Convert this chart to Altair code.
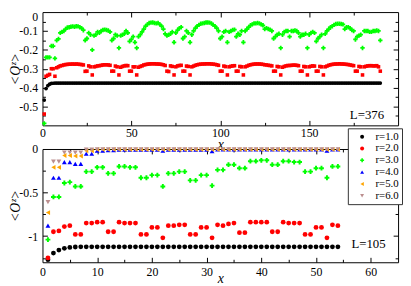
import altair as alt
import pandas as pd

# ---------------- data ----------------
labels = ["r=1.0", "r=2.0", "r=3.0", "r=4.0", "r=5.0", "r=6.0"]
colors = ["#000000", "#ff0000", "#00ff00", "#0000ff", "#ffa500", "#bc8f8f"]
shapes_bot = ["circle", "circle", "cross", "triangle-up", "triangle-left", "triangle-down"]
shapes_top = ["circle", "square", "cross"]

# top panel, L=376
top_x = list(range(1, 191))
top_r1 = [-0.466, -0.405, -0.39, -0.382, -0.378, -0.377] + [-0.376] * 184
top_r2 = [
    -0.54, -0.34, -0.335, -0.33, -0.30, -0.30, -0.34, -0.295, -0.29, -0.285,
    -0.283, -0.28, -0.278, -0.277, -0.276, -0.276, -0.275, -0.276, -0.275, -0.276,
    -0.277, -0.278, -0.28, -0.314, -0.313, -0.285, -0.29, -0.333, -0.29, -0.288,
    -0.285, -0.284, -0.282, -0.28, -0.279, -0.279, -0.28, -0.282, -0.313, -0.313,
    -0.286, -0.29, -0.333, -0.292, -0.288, -0.285, -0.283, -0.284, -0.313, -0.313,
    -0.29, -0.29, -0.333, -0.292, -0.288, -0.285, -0.28, -0.278, -0.276, -0.275,
    -0.274, -0.274, -0.274, -0.275, -0.275, -0.276, -0.277, -0.279, -0.283, -0.313,
    -0.315, -0.285, -0.288, -0.333, -0.29, -0.285, -0.283, -0.282, -0.313, -0.313,
    -0.286, -0.288, -0.333, -0.29, -0.286, -0.282, -0.279, -0.277, -0.276, -0.275,
    -0.275, -0.274, -0.274, -0.274, -0.275, -0.276, -0.277, -0.279, -0.282, -0.313,
    -0.313, -0.286, -0.289, -0.333, -0.29, -0.287, -0.285, -0.284, -0.313, -0.313,
    -0.288, -0.29, -0.333, -0.29, -0.286, -0.282, -0.279, -0.277, -0.276, -0.275,
    -0.275, -0.275, -0.276, -0.277, -0.279, -0.28, -0.282, -0.283, -0.285, -0.313,
    -0.313, -0.288, -0.29, -0.333, -0.292, -0.288, -0.285, -0.283, -0.283, -0.282,
    -0.281, -0.281, -0.282, -0.284, -0.313, -0.313, -0.288, -0.29, -0.333, -0.29,
    -0.287, -0.285, -0.286, -0.313, -0.313, -0.288, -0.29, -0.333, -0.29, -0.286,
    -0.282, -0.279, -0.277, -0.276, -0.275, -0.275, -0.274, -0.275, -0.275, -0.276,
    -0.277, -0.278, -0.28, -0.282, -0.284, -0.313, -0.313, -0.288, -0.29, -0.333,
    -0.29, -0.287, -0.285, -0.284, -0.284, -0.285, -0.285, -0.284, -0.29, -0.313,
]
top_r3 = [
    -0.59, -0.24, -0.24, -0.24, -0.18, -0.18, -0.245, -0.15, -0.142, -0.11,
    -0.105, -0.10, -0.09, -0.082, -0.08, -0.078, -0.076, -0.078, -0.075, -0.076,
    -0.08, -0.085, -0.096, -0.15, -0.14, -0.11, -0.12, -0.20, -0.125, -0.12,
    -0.105, -0.11, -0.10, -0.095, -0.093, -0.095, -0.098, -0.105, -0.15, -0.14,
    -0.12, -0.125, -0.19, -0.125, -0.12, -0.115, -0.10, -0.11, -0.155, -0.145,
    -0.13, -0.16, -0.19, -0.13, -0.12, -0.105, -0.09, -0.075, -0.065, -0.058,
    -0.056, -0.055, -0.058, -0.06, -0.058, -0.065, -0.075, -0.09, -0.115, -0.125,
    -0.12, -0.115, -0.105, -0.16, -0.11, -0.095, -0.085, -0.08, -0.14, -0.13,
    -0.10, -0.11, -0.16, -0.12, -0.10, -0.085, -0.075, -0.068, -0.062, -0.06,
    -0.058, -0.055, -0.055, -0.056, -0.06, -0.068, -0.075, -0.085, -0.10, -0.14,
    -0.13, -0.105, -0.10, -0.16, -0.105, -0.10, -0.095, -0.093, -0.13, -0.115,
    -0.12, -0.10, -0.16, -0.10, -0.09, -0.08, -0.07, -0.065, -0.06, -0.06,
    -0.058, -0.06, -0.065, -0.07, -0.09, -0.085, -0.09, -0.093, -0.10, -0.14,
    -0.13, -0.12, -0.115, -0.19, -0.12, -0.105, -0.10, -0.10, -0.13, -0.10,
    -0.10, -0.098, -0.10, -0.11, -0.13, -0.12, -0.12, -0.115, -0.19, -0.12,
    -0.11, -0.105, -0.11, -0.155, -0.14, -0.13, -0.12, -0.19, -0.115, -0.10,
    -0.09, -0.08, -0.075, -0.068, -0.063, -0.062, -0.062, -0.063, -0.065, -0.09,
    -0.08, -0.08, -0.085, -0.095, -0.10, -0.145, -0.13, -0.125, -0.12, -0.19,
    -0.10, -0.10, -0.10, -0.105, -0.105, -0.10, -0.10, -0.098, -0.10, -0.15,
]

# bottom panel, L=105
bot_x = list(range(1, 55))
bot_r1 = [-1.27, -1.195, -1.16, -1.14, -1.13, -1.125] + [-1.123] * 48
bot_r2 = [
    -1.25, -0.95, -0.94, -0.89, -0.88, -0.98, -0.98, -0.85, -0.85, -0.84,
    -0.84, -0.95, -0.95, -0.84, -0.85, -0.85, -0.85, -0.98, -0.98, -0.90,
    -0.90, -1.02, -0.88, -0.88, -0.87, -0.87, -0.98, -0.98, -0.90, -0.90,
    -1.02, -0.87, -0.88, -0.86, -0.85, -0.96, -0.96, -0.84, -0.84, -0.84,
    -0.84, -0.95, -0.95, -0.84, -0.85, -0.85, -0.85, -0.98, -0.98, -0.90,
    -0.90, -1.02, -0.87, -0.88,
]
bot_r3 = [
    -1.04, -0.55, -0.55, -0.39, -0.38, -0.43, -0.43, -0.26, -0.26, -0.21,
    -0.21, -0.28, -0.28, -0.20, -0.20, -0.21, -0.21, -0.33, -0.33, -0.30,
    -0.30, -0.43, -0.28, -0.28, -0.26, -0.26, -0.36, -0.36, -0.30, -0.30,
    -0.42, -0.24, -0.24, -0.18, -0.18, -0.22, -0.22, -0.14, -0.14, -0.13,
    -0.13, -0.18, -0.18, -0.14, -0.14, -0.15, -0.15, -0.26, -0.26, -0.22,
    -0.22, -0.33, -0.20, -0.20,
]
bot_r4 = ([-0.88, -0.33, -0.33, -0.15, -0.15, -0.17, -0.17, -0.055, -0.055, -0.02,
           -0.02, -0.012, -0.012] + [-0.008] * 8 + [-0.02] + [-0.007] * 8
          + [-0.025] + [-0.006] * 20 + [-0.018, -0.006, -0.006])
bot_r5 = [-0.73, -0.21, -0.21, -0.075, -0.075, -0.08, -0.08, -0.02, -0.02] + [-0.005] * 45
bot_r6 = [-0.61, -0.145, -0.145, -0.04, -0.04, -0.042, -0.042, -0.008, -0.008] + [-0.003] * 45

top_ann = pd.DataFrame({"x": [182.5], "y": [-0.545], "t": ["L=376"]})
bot_ann = pd.DataFrame({"x": [59.6], "y": [-1.09], "t": ["L=105"]})

# ---------------- chart ----------------
SERIF = "'Liberation Serif', 'Times New Roman', serif"
W, TH, BH = 361, 115, 115


def cond(test, big=5, small=3):
    return {"condition": {"test": test, "value": big}, "value": small}


def tick_axis(orient, offset, values, test):
    return alt.Axis(orient=orient, offset=offset, values=values, labels=False,
                    domain=False, ticks=True, tickSize=cond(test), title=None,
                    grid=False, tickColor="black")


# --- top panel
xs_t = alt.Scale(domain=[0, 200], nice=False, zero=False)
ys_t = alt.Scale(domain=[-0.6, 0], nice=False, zero=False)
xt_major = [0, 50, 100, 150]
xt_all = [25, 50, 75, 100, 125, 150, 175]
yt_major = [0, -0.1, -0.2, -0.3, -0.4, -0.5]
yt_all = [-0.05, -0.1, -0.15, -0.2, -0.25, -0.3, -0.35, -0.4, -0.45, -0.5, -0.55]
xt_test = "datum.value % 50 === 0"
yt_test = "abs(datum.value*10 - round(datum.value*10)) < 0.001"

x_lab_t = alt.Axis(orient="bottom", values=xt_major, ticks=False, domain=False, grid=False,
                   labelPadding=2, format="d", labelFlush=False, title="x",
                   titleFontStyle="italic", titleFontSize=14, titleY=23,
                   titleBaseline="alphabetic")
y_lab_t = alt.Axis(orient="left", values=yt_major, ticks=False, domain=False, grid=False,
                   labelPadding=5, labelFlush=True,
                   labelExpr="datum.value === 0 ? '0' : replace(format(datum.value, '.1f'), '\u2212', '-')",
                   title="<O\u1dbb>", titleFontStyle="italic", titleFontSize=14,
                   titleX=-27, titleBaseline="middle", titleAngle=270)

top_dfs = [pd.DataFrame({"x": top_x, "y": v}) for v in (top_r1, top_r2, top_r3)]
top_axes = [
    (x_lab_t, y_lab_t),
    (tick_axis("top", -TH, xt_all, xt_test), tick_axis("right", -W, yt_all, yt_test)),
    (tick_axis("bottom", -TH, xt_all, xt_test), tick_axis("left", -W, yt_all, yt_test)),
]
top_sizes = [14, 13, 20]
top_layers = []
for i in range(3):
    ax_x, ax_y = top_axes[i]
    top_layers.append(
        alt.Chart(top_dfs[i]).mark_point(filled=True, opacity=1, shape=shapes_top[i],
                                         size=top_sizes[i], color=colors[i], clip=False)
        .encode(x=alt.X("x:Q", scale=xs_t, axis=ax_x),
                y=alt.Y("y:Q", scale=ys_t, axis=ax_y))
    )
top_text = alt.Chart(top_ann).mark_text(font=SERIF, fontSize=13, color="black").encode(
    x=alt.X("x:Q", scale=xs_t, axis=None), y=alt.Y("y:Q", scale=ys_t, axis=None), text="t:N")
top = alt.layer(*top_layers, top_text).resolve_axis(x="independent", y="independent").properties(
    width=W, height=TH)

# --- bottom panel
xs_b = alt.Scale(domain=[0, 65], nice=False, zero=False)
ys_b = alt.Scale(domain=[-1.3, 0], nice=False, zero=False)
xb_major = [0, 10, 20, 30, 40, 50, 60]
xb_all = [5, 10, 15, 20, 25, 30, 35, 40, 45, 50, 55, 60]
yb_major = [0, -0.5, -1]
yb_all = [-0.25, -0.5, -0.75, -1, -1.25]
xb_test = "datum.value % 10 === 0"
yb_test = "abs(datum.value*2 - round(datum.value*2)) < 0.001"

bot_series = [bot_r1, bot_r2, bot_r3, bot_r4, bot_r5, bot_r6]
bot_df = pd.concat([pd.DataFrame({"x": bot_x, "y": v, "s": labels[i]})
                    for i, v in enumerate(bot_series)], ignore_index=True)

x_lab_b = alt.Axis(orient="bottom", values=xb_major, ticks=False, domain=False, grid=False,
                   labelPadding=4, format="d", labelFlush=False, title="x",
                   titleFontStyle="italic", titleFontSize=14, titleY=21,
                   titleBaseline="alphabetic")
y_lab_b = alt.Axis(orient="left", values=yb_major, ticks=False, domain=False, grid=False,
                   labelPadding=5, labelFlush=False,
                   labelExpr="replace(format(datum.value, '~g'), '\u2212', '-')",
                   title="<O\u1dbb>", titleFontStyle="italic", titleFontSize=14,
                   titleX=-27, titleBaseline="middle", titleAngle=270)

legend = alt.Legend(title=None, orient="none", legendX=310, legendY=118,
                    fillColor="white", strokeColor="#333333", padding=3,
                    labelFont=SERIF, labelFontSize=11, labelColor="black",
                    symbolSize=16, symbolOffset=6, labelOffset=8, rowPadding=0,
                    symbolStrokeWidth=0)

bot_pts = alt.Chart(bot_df).mark_point(filled=True, opacity=1, size=24, clip=False).encode(
    x=alt.X("x:Q", scale=xs_b, axis=x_lab_b),
    y=alt.Y("y:Q", scale=ys_b, axis=y_lab_b),
    color=alt.Color("s:N", scale=alt.Scale(domain=labels, range=colors), legend=legend),
    shape=alt.Shape("s:N", scale=alt.Scale(domain=labels, range=shapes_bot), legend=legend),
)
bot_text = alt.Chart(bot_ann).mark_text(font=SERIF, fontSize=13, color="black").encode(
    x=alt.X("x:Q", scale=xs_b, axis=tick_axis("top", -BH, xb_all, xb_test)),
    y=alt.Y("y:Q", scale=ys_b, axis=tick_axis("right", -W, yb_all, yb_test)),
    text="t:N")
bot_ghost = alt.Chart(bot_ann).mark_point(opacity=0).encode(
    x=alt.X("x:Q", scale=xs_b, axis=tick_axis("bottom", -BH, xb_all, xb_test)),
    y=alt.Y("y:Q", scale=ys_b, axis=tick_axis("left", -W, yb_all, yb_test)))
bottom = alt.layer(bot_pts, bot_text, bot_ghost).resolve_axis(
    x="independent", y="independent").properties(width=W, height=BH)

chart = alt.vconcat(top, bottom, spacing=24).properties(
    bounds="flush", padding=0
).configure_view(stroke="black", strokeWidth=1).configure_axis(
    labelFont=SERIF, titleFont=SERIF, labelFontSize=12, labelColor="black",
    titleColor="black", titleFontWeight="normal", grid=False
)

chart.save("out.html", embed_options={"renderer": "svg", "actions": False})
